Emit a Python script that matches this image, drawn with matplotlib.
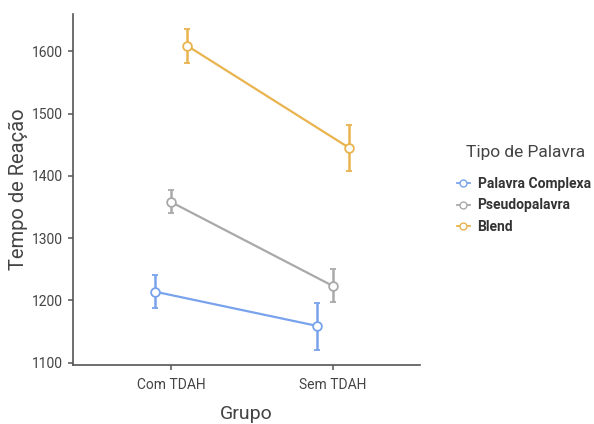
import matplotlib
matplotlib.use("Agg")
import matplotlib.pyplot as plt
from matplotlib.lines import Line2D
import numpy as np

groups = ["Com TDAH", "Sem TDAH"]
series = ["Palavra Complexa", "Pseudopalavra", "Blend"]
means = {
    "Palavra Complexa": [1214, 1159],
    "Pseudopalavra": [1358, 1223],
    "Blend": [1609, 1445],
}
lower = {
    "Palavra Complexa": [1187, 1121],
    "Pseudopalavra": [1340, 1197],
    "Blend": [1582, 1408],
}
upper = {
    "Palavra Complexa": [1240, 1196],
    "Pseudopalavra": [1377, 1250],
    "Blend": [1636, 1482],
}
colors = {
    "Palavra Complexa": "#78a3ec",
    "Pseudopalavra": "#a9a9a9",
    "Blend": "#e9b34e",
}
yticks = [1100, 1200, 1300, 1400, 1500, 1600]

plt.rcParams["font.family"] = ["Roboto", "DejaVu Sans"]

fig = plt.figure(figsize=(5.94, 4.24), dpi=100)
ax = fig.add_axes([0.1229, 0.139, 0.584, 0.828])

x = np.arange(len(groups))
offsets = [-0.1, 0.0, 0.1]
for s, off in zip(series, offsets):
    m = np.array(means[s])
    lo = m - np.array(lower[s])
    hi = np.array(upper[s]) - m
    ax.errorbar(x + off, m, yerr=[lo, hi], color=colors[s], lw=1.6,
                elinewidth=1.8, capsize=2.2, capthick=1.6,
                marker="o", markersize=6.3, markerfacecolor="white",
                markeredgecolor=colors[s], markeredgewidth=1.3, zorder=3)

ax.set_xlim(-0.605, 1.537)
ax.set_ylim(1096, 1660)
ax.set_xticks(x)
ax.set_xticklabels(groups)
ax.set_yticks(yticks)
for side in ["top", "right"]:
    ax.spines[side].set_visible(False)
for side in ["left", "bottom"]:
    ax.spines[side].set_color("#555555")
    ax.spines[side].set_linewidth(1.2)
ax.tick_params(axis="both", colors="#555555", length=3.5, width=1.1,
               labelsize=10, labelcolor="#444444")
ax.tick_params(axis="x", pad=6)
ax.set_xlabel("Grupo", fontsize=14, color="#444444", labelpad=9)
ax.set_ylabel("Tempo de Reação", fontsize=14.5, color="#444444", labelpad=3)

# legend title drawn separately so the gap above the entries can be set
fig.text(0.885, 0.641, "Tipo de Palavra", fontsize=12.5, color="#444444",
         ha="center", va="center")

handles = [Line2D([0], [0], color=colors[s], lw=1.3, marker="o", markersize=5,
                  markerfacecolor="white", markeredgecolor=colors[s])
           for s in series]
leg = fig.legend(handles, series,
                 loc="upper left", bbox_to_anchor=(0.769, 0.583),
                 frameon=False, borderpad=0, borderaxespad=0,
                 handlelength=0.95, handletextpad=0.55,
                 labelspacing=0.55,
                 prop={"weight": "bold", "size": 10})
for t in leg.get_texts():
    t.set_color("#333333")

fig.savefig("out.png", dpi=100)
